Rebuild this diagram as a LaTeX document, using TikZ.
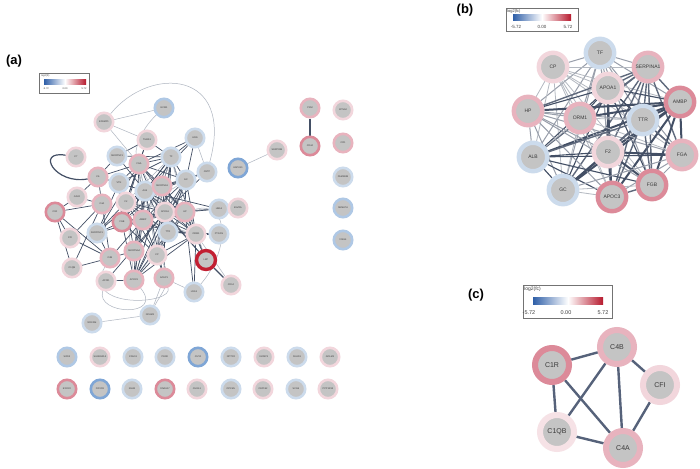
\documentclass[tikz,border=0pt]{standalone}
\usepackage{fontspec}
\setmainfont{Liberation Sans}
\usetikzlibrary{backgrounds}
\definecolor{gin}{HTML}{C4C4C4}
\definecolor{txt}{HTML}{3A3A3A}
\definecolor{bl}{HTML}{CCDBEC}
\definecolor{bm}{HTML}{AFC8E5}
\definecolor{bd}{HTML}{7FA6D6}
\definecolor{pl}{HTML}{F2D6DC}
\definecolor{pk}{HTML}{E8B3BE}
\definecolor{pd}{HTML}{DC8A99}
\definecolor{rd}{HTML}{C21F32}
\definecolor{ec}{HTML}{434F65}
\definecolor{el}{HTML}{AEB5C0}
\definecolor{ecc}{HTML}{56627A}
\definecolor{lgb}{HTML}{2F5FA8}
\definecolor{lgr}{HTML}{B71A2E}
\begin{document}
\begin{tikzpicture}[x=1pt,y=-1pt,
  an/.style={circle,fill=gin,line width=2.6pt,minimum size=18.4pt,inner sep=0pt,font=\fontsize{2.4}{2.8}\selectfont,text=txt},
  bn/.style={circle,fill=gin,line width=4.4pt,minimum size=28.4pt,inner sep=0pt,font=\fontsize{5}{6}\selectfont,text=txt},
  cn/.style={circle,fill=gin,line width=6pt,minimum size=34pt,inner sep=0pt,font=\fontsize{7}{8}\selectfont,text=txt},
  plab/.style={font=\fontsize{13}{15}\selectfont\bfseries,inner sep=0pt},
  lgbox/.style={draw=black!55,line width=0.5pt},
  lgt/.style={inner sep=0pt,text=black!75},
  ad/.style={draw=ec,line width=0.7pt},
  al/.style={draw=el,line width=0.5pt},
  b0/.style={draw=ec,line width=2pt},
  b1/.style={draw=ec!85,line width=1.4pt},
  b2/.style={draw=ec!55,line width=1pt},
  b3/.style={draw=ec,line width=1.1pt},
  b4/.style={draw=ec!40,line width=0.8pt},
  ce/.style={draw=ecc,line width=2.4pt}]
\useasboundingbox (0,0) rectangle (700,468);
\begin{scope}[on background layer]
\fill[white] (0,0) rectangle (700,468);
\end{scope}

% ---------------- panel (a) ----------------
\node[plab] (la) at (14,61) {(a)};
\draw[lgbox] (39,73) rectangle (89,93);
\node[lgt,anchor=north west,font=\fontsize{2.5}{3}\selectfont] (lat) at (41,74.5) {log2(fc)};
\shade[left color=lgb,right color=lgr,middle color=white] (44,80) rectangle (86,85);
\node[lgt,font=\fontsize{2.5}{3}\selectfont] (la1) at (46,89) {-5.72};
\node[lgt,font=\fontsize{2.5}{3}\selectfont] (la2) at (65,89) {0.00};
\node[lgt,font=\fontsize{2.5}{3}\selectfont] (la3) at (84,89) {5.72};

\foreach \n/\x/\y/\c/\t in {
 ECM1/164/108/bm/ECM1, EFEMP1/104/122/pl/EFEMP1, THBS1/147/140/pl/THBS1,
 HRG/195/138/bl/HRG, C7/76/157/pl/C7, SF1/117/156/bl/SERPINF1,
 FGA/139/164/pk/FGA, TF/171/157/bl/TF, GC/186/180/bl/GC, CETP/207/172/bl/CETP,
 HAPLN1/238/168/bd/HAPLN1, SERPINB/277/150/pl/SERPINB, C6/98/177/pk/C6,
 VTN/119/183/bl/VTN, ALB/145/191/bl/ALB, SA1/162/186/pk/SERPINA1,
 CALR/77/197/pl/CALR, C4A/102/204/pk/C4A, F2/126/202/pl/F2, C1R/55/212/pd/C1R,
 FGB/122/222/pd/FGB, AMBP/143/220/pk/AMBP, APOA1/165/212/pl/APOA1,
 HP/185/212/pk/HP, HBA1/219/209/bl/HBA1, BLVRA/238/208/pl/BLVRA,
 CFI/70/238/pl/CFI, SC1/97/233/bl/SERPINC1, TTR/168/232/bl/TTR,
 ORM1/196/234/pl/ORM1, PTGDS/219/234/bl/PTGDS, C4B/110/258/pk/C4B,
 SA4/134/251/pk/SERPINA4, CP/157/255/pl/CP, C1QB/72/268/pl/C1QB,
 APOD/106/281/pl/APOD, APOC3/134/280/pk/APOC3, AZGP1/164/278/pk/AZGP1,
 LRG1/194/292/bl/LRG1, CD14/231/285/pl/CD14, NCAM1/150/315/bl/NCAM1,
 NRCAM/92/323/bl/NRCAM, PKM/310/108/pk/PKM, CD44/310/146/pd/CD44,
 KPNA2/343/110/pl/KPNA2, CFD/343/143/pk/CFD, FAM118B/343/177/bl/FAM118B,
 SEMA7A/343/208/bm/SEMA7A, VSIG4/343/240/bm/VSIG4,
 SOD3/67/357/bm/SOD3, SH3/100/357/pl/SH3BGRL3, CDH13/133/357/bl/CDH13,
 PENK/165/357/bl/PENK, CUTA/198/357/bd/CUTA, NPTXR/231/357/bl/NPTXR,
 IGFBP1/264/357/pl/IGFBP1, FAHD1/297/357/bl/FAHD1, GOLM1/330/357/pl/GOLM1,
 EXOC2/67/389/pd/EXOC2, FOXO3/100/389/bd/FOXO3, IGHM/132/389/bl/IGHM,
 DNAH17/165/389/pd/DNAH17, CHI3L1/197/389/pl/CHI3L1, OPCML/231/389/bl/OPCML,
 CEP152/263/389/pl/CEP152, SCG5/296/389/bl/SCG5, PPP1R/328/389/pl/PPP1R13}
 {\node[an,draw=\c] (a-\n) at (\x,\y) {\t};}
\node[an,draw=rd,line width=3.4pt,minimum size=19pt] (a-LBP) at (206,260) {LBP};

\begin{scope}[on background layer]
\foreach \u [count=\i] in {FGA,TF,GC,SA1,ALB,F2,FGB,AMBP,APOA1,HP,TTR,ORM1,CP,APOC3}{
 \foreach \v [count=\j] in {FGA,TF,GC,SA1,ALB,F2,FGB,AMBP,APOA1,HP,TTR,ORM1,CP,APOC3}{
  \ifnum\i<\j
   \pgfmathtruncatemacro\k{mod(\i*5+\j*3,4)}
   \ifnum\k=0 \draw[al] (a-\u) -- (a-\v); \else \draw[ad] (a-\u) -- (a-\v); \fi
  \fi}}
\foreach \u/\v in {C6/C4A,C6/VTN,C6/FGA,C6/SF1,C4A/C4B,C4A/C1R,C4A/CFI,C4A/C1QB,
 C1R/C4B,C1R/C1QB,C4B/CFI,C4B/C1QB,CALR/C4A,CALR/C1R,CALR/C6,
 VTN/ALB,VTN/F2,VTN/FGB,VTN/SC1,VTN/FGA,VTN/TF,SC1/F2,SC1/FGB,SC1/ALB,SC1/AMBP,
 SC1/C4B,SC1/FGA,C4B/AMBP,C4B/SA4,SA4/ALB,SA4/AMBP,SA4/APOA1,SA4/F2,
 APOD/APOA1,APOD/APOC3,AZGP1/ALB,AZGP1/APOA1,AZGP1/CP,LBP/ORM1,LBP/ALB,
 LBP/APOA1,LBP/HP,HBA1/HP,HBA1/ALB,HBA1/APOA1,PTGDS/TTR,PTGDS/ORM1,
 HRG/TF,HRG/GC,HRG/ALB,HRG/FGA,THBS1/FGA,THBS1/TF,THBS1/F2,THBS1/SF1,
 SF1/ALB,SF1/TF,CETP/APOA1,CETP/GC,CETP/ALB,LRG1/HP,LRG1/ORM1,C1R/CFI}
 {\draw[ad] (a-\u) -- (a-\v);}
\draw[ec,line width=1.1pt] (a-LBP) -- (a-CD14);
\draw[ec,line width=1.1pt] (a-PKM) -- (a-CD44);
\foreach \u/\v in {HAPLN1/SERPINB,NCAM1/NRCAM,ECM1/EFEMP1,EFEMP1/FGA,EFEMP1/THBS1,
 HRG/CETP,LBP/TF,NCAM1/AZGP1,LRG1/AZGP1,CD14/ORM1}
 {\draw[al] (a-\u) -- (a-\v);}
\draw[al] (a-EFEMP1) .. controls (150,65) and (235,70) .. (a-CETP);
\draw[al] (a-ECM1) .. controls (140,130) and (135,150) .. (a-FGA);
\draw[ec,line width=1.2pt] (a-C7) .. controls (35,150) and (55,185) .. (a-C6);
\draw[al] (a-APOD) .. controls (95,315) and (165,318) .. (a-APOC3);
\draw[al] (a-C4B) .. controls (80,310) and (175,305) .. (a-AZGP1);
\draw[al] (a-NCAM1) .. controls (160,295) and (175,280) .. (a-CP);
\draw[al] (a-LRG1) .. controls (230,250) and (230,200) .. (a-HP);
\end{scope}

% ---------------- panel (b) ----------------
\node[plab] (lb) at (465,10) {(b)};
\draw[lgbox] (506,8) rectangle (578,31);
\node[lgt,anchor=north west,font=\fontsize{4}{5}\selectfont] (lbt) at (507,9.5) {log2(fc)};
\shade[left color=lgb,right color=lgr,middle color=white] (513,15) rectangle (571,21);
\node[lgt,font=\fontsize{4.5}{5}\selectfont] (lb1) at (516,27) {-5.72};
\node[lgt,font=\fontsize{4.5}{5}\selectfont] (lb2) at (542,27) {0.00};
\node[lgt,font=\fontsize{4.5}{5}\selectfont] (lb3) at (568,27) {5.72};

\foreach \n/\x/\y/\c/\t in {
 TF/600/53/bl/TF, CP/553/67/pl/CP, SA1/648/67/pk/SERPINA1, APOA1/608/88/pl/APOA1,
 AMBP/680/102/pd/AMBP, HP/528/111/pk/HP, ORM1/580/118/pk/ORM1, TTR/643/120/bl/TTR,
 ALB/533/157/bl/ALB, F2/608/152/pl/F2, FGA/682/155/pk/FGA, GC/563/190/bl/GC,
 FGB/652/185/pd/FGB, APOC3/612/197/pd/APOC3}
 {\node[bn,draw=\c] (b-\n) at (\x,\y) {\t};}

\begin{scope}[on background layer]
\foreach \u [count=\i] in {TF,CP,SA1,APOA1,AMBP,HP,ORM1,TTR,ALB,F2,FGA,GC,FGB,APOC3}{
 \foreach \v [count=\j] in {TF,CP,SA1,APOA1,AMBP,HP,ORM1,TTR,ALB,F2,FGA,GC,FGB,APOC3}{
  \ifnum\i<\j
   \pgfmathtruncatemacro\k{mod(\i*7+\j*5,5)}
   \ifcase\k \draw[b0] (b-\u) -- (b-\v);
   \or \draw[b1] (b-\u) -- (b-\v);
   \or \draw[b2] (b-\u) -- (b-\v);
   \or \draw[b3] (b-\u) -- (b-\v);
   \else \draw[b4] (b-\u) -- (b-\v);
   \fi
  \fi}}
\end{scope}

% ---------------- panel (c) ----------------
\node[plab] (lc) at (476,295) {(c)};
\draw[lgbox] (523,285) rectangle (612,318);
\node[lgt,anchor=north west,font=\fontsize{5}{6}\selectfont] (lct) at (524,286.5) {log2(fc)};
\shade[left color=lgb,right color=lgr,middle color=white] (533,297) rectangle (603,304);
\node[lgt,font=\fontsize{5.5}{6}\selectfont] (lc1) at (529,313) {-5.72};
\node[lgt,font=\fontsize{5.5}{6}\selectfont] (lc2) at (566,313) {0.00};
\node[lgt,font=\fontsize{5.5}{6}\selectfont] (lc3) at (603,313) {5.72};

\node[cn,draw=pk] (c-C4B) at (617,347) {C4B};
\node[cn,draw=pd] (c-C1R) at (552,365) {C1R};
\node[cn,draw=pl] (c-CFI) at (660,385) {CFI};
\node[cn,draw=pl!70] (c-C1QB) at (557,432) {C1QB};
\node[cn,draw=pk] (c-C4A) at (623,448) {C4A};
\begin{scope}[on background layer]
\foreach \u/\v in {C1R/C4B,C1R/C1QB,C1R/C4A,C4B/CFI,C4B/C1QB,C4B/C4A,CFI/C4A,C1QB/C4A}
 {\draw[ce] (c-\u) -- (c-\v);}
\end{scope}
\end{tikzpicture}
\end{document}
